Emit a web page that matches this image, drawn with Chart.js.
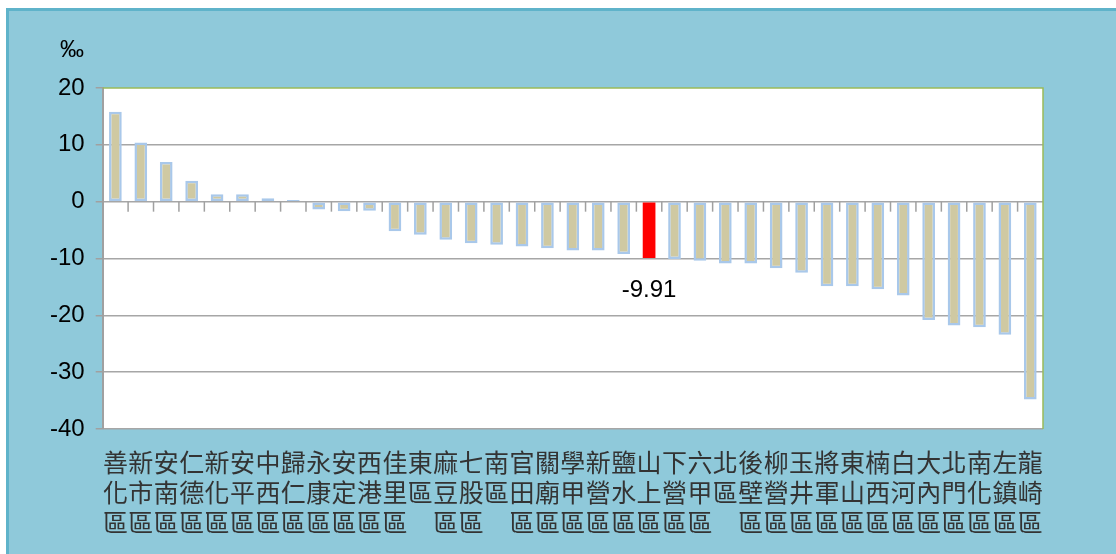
<!DOCTYPE html>
<html>
<head>
<meta charset="utf-8">
<script src="https://cdn.jsdelivr.net/npm/chart.js@4.4.1/dist/chart.umd.min.js"></script>
<style>
  html, body { margin: 0; padding: 0; background: #fff; }
  #panel { position: absolute; left: 6px; top: 8px; width: 1110px; height: 546px;
           background: #8FC9DA; border-left: 3px solid #5FB3CA; border-top: 3px solid #5FB3CA;
           box-sizing: border-box; }
  #canvas { position: absolute; left: 0; top: 0; }
</style>
</head>
<body>
<div id="panel"></div>
<canvas id="canvas" width="1116" height="554"></canvas>
<script>
var districts = ['善化區', '新市區', '安南區', '仁德區', '新化區', '安平區', '中西區', '歸仁區',
  '永康區', '安定區', '西港區', '佳里區', '東區', '麻豆區', '七股區', '南區', '官田區', '關廟區',
  '學甲區', '新營區', '鹽水區', '山上區', '下營區', '六甲區', '北區', '後壁區', '柳營區', '玉井區',
  '將軍區', '東山區', '楠西區', '白河區', '大內區', '北門區', '南化區', '左鎮區', '龍崎區'];
var rates = [15.8, 10.4, 7.0, 3.7, 1.3, 1.3, 0.6, 0.3, -1.4, -1.7, -1.6, -5.2, -5.8, -6.7,
  -7.3, -7.6, -7.9, -8.2, -8.6, -8.6, -9.2, -9.91, -10.1, -10.4, -10.9, -10.9, -11.7, -12.5,
  -14.9, -14.9, -15.4, -16.5, -20.8, -21.8, -22.1, -23.4, -34.8];
var highlight = '山上區';
var yTicks = [20, 10, 0, -10, -20, -30, -40];

// one character per line, like the vertical labels of the original
var labels = districts.map(function (n) {
  return n.length === 3 ? n.split('') : [n[0], n[1], ''];
});
var fills = districts.map(function (n) { return n === highlight ? '#FF0000' : '#CFC9A2'; });
var borders = districts.map(function (n) { return n === highlight ? 0 : 2.5; });

var deco = {
  id: 'deco',
  beforeDraw: function (chart) {
    var a = chart.chartArea, ctx = chart.ctx;
    ctx.save();
    ctx.fillStyle = '#fff';
    ctx.fillRect(a.left, a.top, a.right - a.left, a.bottom - a.top);
    ctx.restore();
  },
  afterDraw: function (chart) {
    var a = chart.chartArea, ctx = chart.ctx;
    var x = chart.scales.x, y = chart.scales.y;
    var y0 = y.getPixelForValue(0);
    ctx.save();
    // tick marks hanging from the zero line
    ctx.strokeStyle = '#A0A0A0';
    ctx.lineWidth = 1.5;
    for (var i = 1; i < districts.length; i++) {
      var px = (x.getPixelForValue(i - 1) + x.getPixelForValue(i)) / 2;
      ctx.beginPath(); ctx.moveTo(px, y0); ctx.lineTo(px, y0 + 10); ctx.stroke();
    }
    // green frame top / right
    ctx.strokeStyle = '#9BBB59';
    ctx.beginPath(); ctx.moveTo(a.left, a.top); ctx.lineTo(a.right, a.top); ctx.lineTo(a.right, a.bottom); ctx.stroke();
    // unit
    ctx.fillStyle = '#000';
    ctx.font = '24px "Liberation Sans"';
    ctx.textAlign = 'center';
    ctx.textBaseline = 'middle';
    ctx.fillText('‰', 72, 50);
    // value label of the highlighted bar
    var idx = districts.indexOf(highlight);
    var bar = chart.getDatasetMeta(0).data[idx];
    ctx.fillText(String(rates[idx]), bar.x, bar.y + 32);
    ctx.restore();
  }
};

new Chart(document.getElementById('canvas').getContext('2d'), {
  type: 'bar',
  data: {
    labels: labels,
    datasets: [{
      data: rates,
      backgroundColor: fills,
      borderColor: '#A9C8EA',
      borderWidth: borders,
      borderSkipped: false,
      categoryPercentage: 1,
      barPercentage: 0.5
    }]
  },
  options: {
    responsive: false,
    animation: false,
    layout: { padding: { left: 39, top: 88, right: 73, bottom: 7 } },
    plugins: { legend: { display: false }, tooltip: { enabled: false } },
    scales: {
      x: {
        grid: { display: false },
        border: { display: false },
        ticks: {
          autoSkip: false, maxRotation: 0, minRotation: 0, padding: 10,
          color: '#333',
          font: { family: '"Noto Sans CJK TC"', size: 25, lineHeight: 1.2 }
        }
      },
      y: {
        min: -40, max: 20,
        afterBuildTicks: function (s) { s.ticks = yTicks.map(function (v) { return { value: v }; }); },
        grid: {
          color: function (c) { return c.tick && c.tick.value === 20 ? 'rgba(0,0,0,0)' : '#A6A6A6'; },
          lineWidth: 1.5,
          tickColor: '#A0A0A0',
          tickLength: 7
        },
        border: { display: true, color: '#A0A0A0', width: 2 },
        ticks: { color: '#000', padding: 11, font: { family: '"Liberation Sans"', size: 24 } }
      }
    }
  },
  plugins: [deco]
});
</script>
</body>
</html>
